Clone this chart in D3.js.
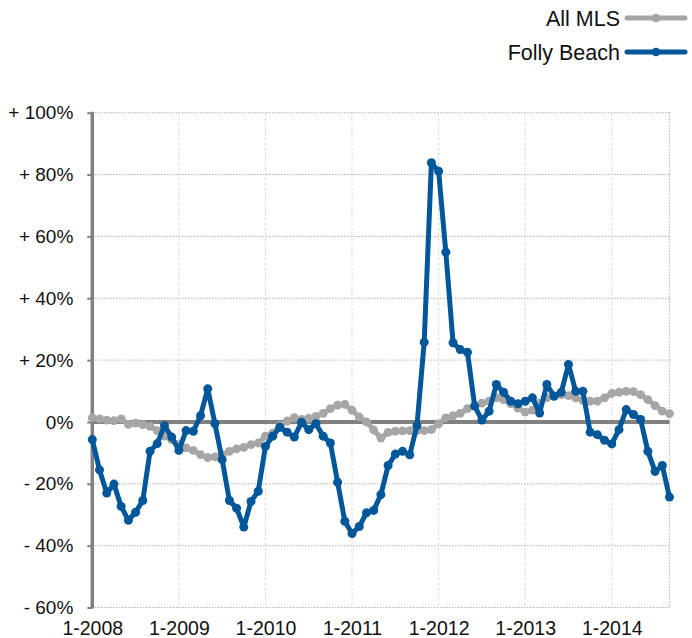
<!DOCTYPE html>
<html>
<head>
<meta charset="utf-8">
<script src="https://cdn.jsdelivr.net/npm/d3@7"></script>
<style>
  html, body { margin: 0; padding: 0; background: #fff; }
  svg { display: block; font-family: "Liberation Sans", Arial, Helvetica, sans-serif; }
</style>
</head>
<body>
<svg id="chart" width="692" height="638"></svg>
<script>
// ---- Data (monthly, Jan 2008 – Sep 2014) ----
const startYear = 2008;
const monthCount = 81;
const yearTicks = ["1-2008", "1-2009", "1-2010", "1-2011", "1-2012", "1-2013", "1-2014"];
const yTickValues = [100, 80, 60, 40, 20, 0, -20, -40, -60];
const seriesNames = ["All MLS", "Folly Beach"];

const allMLS = [
  1.3, 1.0, 0.6, 0.4, 1.0, -0.8, -0.4, -0.9, -1.4, -2.8,
  -4.6, -5.7, -7.3, -8.4, -9.2, -10.6, -11.5, -11.3, -10.6, -9.5,
  -8.7, -8.2, -7.3, -6.8, -4.6, -3.6, -1.2, 0.3, 1.4, 0.8,
  1.2, 1.8, 2.8, 4.3, 5.4, 5.7, 3.8, 1.6, 0.0, -2.6,
  -5.2, -3.4, -3.0, -2.9, -2.8, -2.8, -2.8, -2.5, -0.6, 1.3,
  2.0, 2.8, 4.3, 5.4, 6.1, 6.7, 7.8, 7.2, 5.9, 4.5,
  3.2, 3.8, 6.1, 7.8, 8.5, 8.8, 8.5, 7.8, 7.0, 6.7,
  6.7, 7.8, 9.2, 9.6, 9.9, 9.8, 8.8, 7.2, 5.3, 3.5,
  2.7
];

const follyBeach = [
  -5.7, -15.5, -23.0, -20.1, -27.3, -31.8, -29.2, -25.4, -9.5, -7.0,
  -1.2, -4.9, -9.2, -2.8, -3.0, 2.0, 10.7, -0.6, -12.2, -25.4,
  -27.9, -34.0, -25.7, -22.4, -7.9, -4.6, -1.7, -3.3, -4.9, -0.1,
  -2.5, -0.6, -4.6, -6.8, -19.5, -32.1, -36.1, -33.8, -29.4, -28.6,
  -23.5, -14.1, -10.4, -9.5, -10.6, -1.2, 25.8, 83.8, 81.1, 54.9,
  25.6, 23.4, 22.5, 5.1, 0.6, 3.5, 12.1, 9.6, 6.7, 5.9,
  6.7, 7.8, 2.9, 12.1, 8.3, 9.6, 18.6, 9.9, 9.9, -3.3,
  -4.1, -5.9, -7.1, -2.5, 4.0, 2.4, 0.8, -9.5, -16.0, -14.1,
  -24.3
];

// ---- Layout ----
const svg = d3.select("#chart");
const plotLeft = 92.3, plotRight = 669.5, plotTop = 112.7, plotBottom = 607.5;
const grayColor = "#a6a6a6";
const blueColor = "#02579b";
const axisColor = "#808080";
const fontFam = "'Liberation Sans', Arial, Helvetica, sans-serif";

const x = d3.scaleLinear().domain([0, monthCount - 1]).range([plotLeft, plotRight]);
const y = d3.scaleLinear().domain([-60, 100]).range([plotBottom, plotTop]);

// Horizontal dotted grid lines
svg.append("g").selectAll("line").data(yTickValues).join("line")
  .attr("x1", plotLeft).attr("x2", plotRight)
  .attr("y1", d => y(d)).attr("y2", d => y(d))
  .attr("stroke", "#8a8a8a").attr("stroke-width", 1)
  .attr("stroke-dasharray", "1,2");

// Vertical light grid lines at each January
const yearIdx = yearTicks.map((t, i) => i * 12);
svg.append("g").selectAll("line").data(yearIdx.slice(1)).join("line")
  .attr("x1", d => x(d)).attr("x2", d => x(d))
  .attr("y1", plotTop).attr("y2", plotBottom)
  .attr("stroke", "#d9d9d9").attr("stroke-width", 1)
  .attr("stroke-dasharray", "3,2");

// Right border dotted
svg.append("line")
  .attr("x1", plotRight).attr("x2", plotRight).attr("y1", plotTop).attr("y2", plotBottom)
  .attr("stroke", "#9a9a9a").attr("stroke-width", 1).attr("stroke-dasharray", "1,2");

// Y axis
const yAxis = d3.axisLeft(y).tickValues(yTickValues).tickSize(5).tickPadding(14)
  .tickFormat(d => d > 0 ? "+ " + d + "%" : d < 0 ? "- " + Math.abs(d) + "%" : "0%");
const gy = svg.append("g").attr("transform", `translate(${plotLeft},0)`).call(yAxis);
gy.select(".domain").remove();
gy.selectAll(".tick line").attr("stroke", axisColor).attr("stroke-width", 2);
gy.selectAll(".tick text").attr("fill", "#111").style("font-size", "19px")
  .style("font-family", fontFam);
svg.append("line")
  .attr("x1", plotLeft).attr("x2", plotLeft).attr("y1", plotTop - 1).attr("y2", plotBottom + 1)
  .attr("stroke", axisColor).attr("stroke-width", 3.5);

// X axis labels
const xAxis = d3.axisBottom(x).tickValues(yearIdx).tickSize(0).tickPadding(14)
  .tickFormat((d, i) => yearTicks[i]);
const gx = svg.append("g").attr("transform", `translate(0,${plotBottom})`).call(xAxis);
gx.select(".domain").remove();
gx.selectAll(".tick text").attr("fill", "#111").style("font-size", "19.5px")
  .style("font-family", fontFam);

// Zero line
svg.append("line")
  .attr("x1", plotLeft).attr("x2", plotRight).attr("y1", y(0)).attr("y2", y(0))
  .attr("stroke", axisColor).attr("stroke-width", 4);

// Series
const line = d3.line().x((d, i) => x(i)).y(d => y(d));
function drawSeries(data, color, r) {
  const g = svg.append("g");
  g.append("path").datum(data).attr("d", line)
    .attr("fill", "none").attr("stroke", color).attr("stroke-width", 5)
    .attr("stroke-linejoin", "round").attr("stroke-linecap", "round");
  g.selectAll("circle").data(data).join("circle")
    .attr("cx", (d, i) => x(i)).attr("cy", d => y(d)).attr("r", r)
    .attr("fill", color);
}
drawSeries(allMLS, grayColor, 4.4);
drawSeries(follyBeach, blueColor, 4.5);

// Legend
const legend = svg.append("g");
const legendItems = [
  { name: seriesNames[0], color: grayColor, cy: 18 },
  { name: seriesNames[1], color: blueColor, cy: 52 }
];
legendItems.forEach(it => {
  legend.append("text").attr("x", 620).attr("y", it.cy).attr("dy", "0.36em")
    .attr("text-anchor", "end").attr("fill", "#111").style("font-size", "21.5px")
    .style("font-family", fontFam)
    .text(it.name);
  legend.append("line").attr("x1", 627).attr("x2", 685).attr("y1", it.cy).attr("y2", it.cy)
    .attr("stroke", it.color).attr("stroke-width", 5).attr("stroke-linecap", "round");
  legend.append("circle").attr("cx", 656).attr("cy", it.cy).attr("r", 4.3).attr("fill", it.color);
});
</script>
</body>
</html>
